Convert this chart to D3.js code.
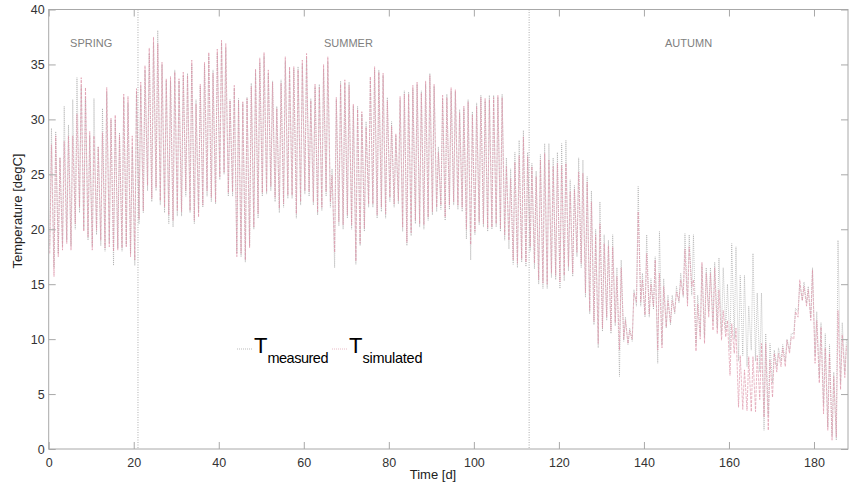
<!DOCTYPE html>
<html>
<head>
<meta charset="utf-8">
<script src="https://cdn.jsdelivr.net/npm/d3@7"></script>
<style>
  body { margin: 0; background: #fff; }
  text { font-family: 'Liberation Sans', Arial, sans-serif; }
</style>
</head>
<body>
<div id="chart"></div>
<script>
let width = 849
let height = 487

// daily extremes, day 0..187
let simMax = [
  27.7,28.5,26.5,28,28.5,28.5,30.5,33.8,32.9,28.9,
  28.5,27.5,28.8,32.9,30.1,30.4,28.6,32.3,32.1,28.5,
  32.8,33.4,34.9,36.5,37.5,36.9,35.2,33.7,33.9,34.3,
  33.7,34.3,34,35.4,31.4,33.2,35.2,36.1,34.2,36.4,
  37.2,36.9,31.7,33.1,31.7,31.6,31.9,33,34.6,35.6,
  36.1,34.5,33.4,31,33.3,35.7,34.8,34.8,34.5,35.4,
  36,31.7,33.2,32.9,35,35.7,24.9,32,33.2,33.6,
  33.1,31.4,30.9,30.7,29.3,33.9,34.8,34.3,34.2,31.7,
  29.4,28.7,32.1,32.3,32.3,33.1,33.4,32.4,33.5,34,
  33.2,27,32.2,32,32.9,32.7,30.6,31.2,31.6,30.4,
  31.2,32,31.9,31.8,32,32.2,32,25.7,24.6,26.1,
  26.7,28.4,26.6,25.7,24.8,26.3,26.9,26.3,25.7,26,
  25.8,26,23.4,23.6,25.2,25.1,24.3,22.5,19.5,20.5,
  18.7,18.5,18.4,15.7,16.5,11.7,10.8,14.2,21.6,15.4,
  17.8,15,17.2,16,14.8,13.5,13.5,14.3,15.4,18.2,
  18.4,15.4,13.2,17,16,16,16.5,14.5,12.6,11.7,
  11.4,11,8.5,7.2,8.4,8.4,8.5,9.6,9.6,8.1,
  8.7,8.7,9.2,9.9,10.2,12.5,15.4,14.8,14.5,16.3,
  11.7,11.1,9.2,8.7,6.6,12.6,10.4,9.4
]
let simMin = [
  17.8,15.7,17.5,18.1,18.7,18.1,20.5,22,19.8,19.3,
  18.1,19.9,19,18.3,18.4,18,18.1,18.3,18.4,17.5,
  17.2,20.9,21.7,24,22.8,23.8,22.6,22,21.3,20.8,
  21.7,21.6,23.5,21.7,20.8,21.1,22.2,23.5,22.9,22.5,
  24.8,25.2,23.3,23.4,17.5,17.8,17.2,18.3,20.2,21.4,
  23.3,23.4,23.9,22.9,21.9,22.3,23.1,23.1,21.4,22.5,
  23.5,23.4,22.5,21.6,22,23.4,22.5,17.9,20.7,20.4,
  21.3,20.4,17.1,18.7,20.1,22.3,22.3,21.3,22,21.4,
  22.9,22.3,22.6,20.2,18.8,19.7,20.8,20.5,20.4,21.1,
  21.6,22,22.2,21.1,22.2,22.5,22.2,22,20,18.6,
  19.8,20.7,20.5,20.1,20.2,20.5,20.1,19.5,19,17.2,
  16.9,17.3,17,18.4,16.9,15.4,15.1,15,16,15.8,
  15.2,15.8,16.6,16,17.9,16.9,14.2,12.6,11.6,9.6,
  11,12,10.8,11.5,9,10,9.6,10,13.4,13.4,
  12.2,12.3,13,9,9.2,11.1,11.5,12.5,13.5,14,
  13,14.8,8.9,10,9.6,12,10.8,10.5,9.9,10.2,
  6.7,8.7,3.8,3.6,3.5,3.4,3.4,4.5,2.9,1.7,
  4.7,7,7.5,7.5,8.7,10,12,13.5,13,11.7,
  7.8,6,3.2,1.7,0.8,1.1,5.4,6.5
]
let measMax = [
  29.2,28.9,26.5,31.2,29.5,31.8,33.8,33,32,28.5,
  31.9,27.5,31,32.5,30,30,28.8,32,31.5,27.5,
  32.5,33,34.5,36,37,38.1,35,33.5,33.5,34.5,
  33.5,34,34.2,35,31.8,33,35,35.8,34.5,36,
  37,36.5,31.8,32.8,31.9,31.5,32,33.3,34.3,35.2,
  35.8,34.2,33.5,31.2,33.6,35.3,34.5,34.6,34.8,35,
  35.6,31.9,33,33.2,34.6,35.3,25.5,31.8,33.5,33.3,
  33.4,31.2,31.2,30.5,29.8,33.6,34.5,34.5,34,32,
  29.8,28.5,31.8,32.6,32.5,32.8,33.2,32.6,33.2,34.2,
  33,27.5,31.9,32.3,32.6,32.5,30.9,31,31.8,30.7,
  31.5,32.2,31.7,32.2,32.2,32,32.3,26.5,25.5,27,
  28.1,29,27,26,25.3,26.8,27.8,27.8,26.5,27,
  27.8,28.1,24.5,24,26.5,26.3,24.8,23.5,20,22.5,
  19.5,19,19.5,16.5,17.2,12,11,14.5,23.9,16,
  19.5,15.5,17.5,19.8,15.5,14,14,14.8,16,19.6,
  19.5,19.5,14,16.7,16.5,16.5,17,17.4,16.5,15,
  18.7,18.4,15.8,15.8,13,17.8,14.2,14.2,10.5,9.6,
  9,9.2,9.5,10,10.5,12.8,15,15.2,14.8,16.5,
  12.5,11.5,10.5,9.5,7,19,11.5,10
]
let measMin = [
  18.5,16.5,17.8,18.5,19,18.5,20,21.5,20,19,
  18.5,19.5,18.5,18,18.8,16.7,18.3,18,18.5,17.8,
  16.7,20.5,21.5,23.5,22.5,23.5,22.2,21.5,20.5,20.2,
  21.2,21.2,23,21.5,20.5,21.5,22,23,22.5,22.3,
  24.5,25,23,23,17.8,17.5,17,18.5,20,21,
  23,23.2,23.5,22.5,21.5,22,22.8,22.8,21,22.2,
  23.2,23,22.2,21.3,21.7,23,22,16.5,20.3,20,
  21,20,16.8,18.5,19.8,22,22,21,21.6,21,
  22.5,22,22.3,19.8,18.5,19.4,20.5,20.2,20,20.8,
  21.3,21.6,21.8,20.8,21.8,22.2,21.8,21.6,19.1,17.2,
  19.5,20.4,20.2,19.8,20,20.2,19.8,19,18.2,16.8,
  16.5,17,16.6,18,16.4,15,14.6,14.6,15.6,15.4,
  14.6,15.3,16.2,15.7,17.5,16.5,13.8,12.3,11.3,9.2,
  10.7,11.7,10.5,11.2,6.6,9.8,9.5,9.8,13,13,
  12,12,12.7,7.8,9.5,11,11.3,12.3,13.3,13.8,
  13.5,14,9.5,10.5,10.2,12.5,11.5,11,10.5,10.8,
  9,10,8,8.5,7.5,9,8,7,1.7,3,
  6,7.5,8,8,9,10.5,12.5,13.5,13.3,12,
  8.5,6.5,4,2,1.2,0.8,6,7
]

let seasonBounds = [21, 113]
let seasons = [
  {name: 'SPRING', day: 10},
  {name: 'SUMMER', day: 70.5},
  {name: 'AUTUMN', day: 150.5}
]
let xTicks = [0, 20, 40, 60, 80, 100, 120, 140, 160, 180]
let yTicks = [0, 5, 10, 15, 20, 25, 30, 35, 40]

let margin = {top: 9.5, right: 1, bottom: 38, left: 48.7}
let axisColor = '#a8a8a8'

let xScale = d3.scaleLinear()
  .domain([0, 188])
  .range([margin.left, width - margin.right])

let yScale = d3.scaleLinear()
  .domain([0, 40])
  .range([height - margin.bottom, margin.top])

let svg = d3.select('#chart').append('svg')
  .attr('width', width)
  .attr('height', height)

svg.append('clipPath').attr('id', 'plot')
  .append('rect')
  .attr('x', xScale(0)).attr('y', yScale(40))
  .attr('width', xScale(188) - xScale(0))
  .attr('height', yScale(0) - yScale(40))

// one minimum and one maximum per day
let toPoints = (mins, maxs) => {
  let pts = []
  mins.forEach((v, i) => {
    pts.push([i + 0.25, v])
    pts.push([i + 0.65, maxs[i]])
  })
  return pts
}

let line = d3.line()
  .x(d => xScale(d[0]))
  .y(d => yScale(d[1]))

let plot = svg.append('g').attr('clip-path', 'url(#plot)')

plot.append('path')
  .datum(toPoints(measMin, measMax))
  .attr('d', line)
  .attr('fill', 'none')
  .attr('stroke', '#9c9c9c')
  .attr('stroke-width', 0.6)
  .attr('stroke-dasharray', '1,1')

plot.append('path')
  .datum(toPoints(simMin, simMax))
  .attr('d', line)
  .attr('fill', 'none')
  .attr('stroke', '#dc93a7')
  .attr('stroke-opacity', 0.8)
  .attr('stroke-width', 0.8)
  .attr('stroke-dasharray', '3,1')

svg.selectAll('.bound')
  .data(seasonBounds)
  .enter().append('line')
  .attr('x1', d => xScale(d)).attr('x2', d => xScale(d))
  .attr('y1', yScale(40)).attr('y2', yScale(0))
  .attr('stroke', '#999')
  .attr('stroke-width', 0.8)
  .attr('stroke-dasharray', '1,1.5')

svg.selectAll('.season')
  .data(seasons)
  .enter().append('text')
  .attr('x', d => xScale(d.day))
  .attr('y', 47)
  .attr('text-anchor', 'middle')
  .attr('font-size', 11)
  .attr('fill', '#808080')
  .text(d => d.name)

// box with inward ticks on all four sides
let styleAxis = (g) => {
  g.select('.domain').remove()
  g.selectAll('.tick line').attr('stroke', axisColor)
  g.selectAll('.tick text').attr('fill', '#333').attr('font-size', 12.5)
    .attr('font-family', "'Liberation Sans', Arial, sans-serif")
}

svg.append('g')
  .attr('transform', 'translate(0,' + yScale(0) + ')')
  .call(d3.axisBottom(xScale).tickValues(xTicks).tickSize(-7).tickPadding(9))
  .call(styleAxis)

svg.append('g')
  .attr('transform', 'translate(0,' + yScale(40) + ')')
  .call(d3.axisTop(xScale).tickValues(xTicks).tickSize(-7).tickFormat(''))
  .call(styleAxis)

svg.append('g')
  .attr('transform', 'translate(' + xScale(0) + ',0)')
  .call(d3.axisLeft(yScale).tickValues(yTicks).tickSize(-7).tickPadding(4))
  .call(styleAxis)

svg.append('g')
  .attr('transform', 'translate(' + xScale(188) + ',0)')
  .call(d3.axisRight(yScale).tickValues(yTicks).tickSize(-7).tickFormat(''))
  .call(styleAxis)

svg.append('rect')
  .attr('x', xScale(0)).attr('y', yScale(40))
  .attr('width', xScale(188) - xScale(0))
  .attr('height', yScale(0) - yScale(40))
  .attr('fill', 'none')
  .attr('stroke', axisColor)

svg.append('text')
  .attr('transform', 'translate(17,211) rotate(-90)')
  .attr('text-anchor', 'middle')
  .attr('dy', '0.35em')
  .attr('font-size', 13)
  .attr('fill', '#222')
  .text('Temperature [degC]')

svg.append('text')
  .attr('x', 433)
  .attr('y', 479)
  .attr('text-anchor', 'middle')
  .attr('font-size', 13)
  .attr('fill', '#222')
  .text('Time [d]')

// legend
let legend = [
  {sub: 'measured', x: 237, stroke: '#aaa'},
  {sub: 'simulated', x: 332, stroke: '#e2aab8'}
]
let items = svg.selectAll('.legend')
  .data(legend)
  .enter().append('g')
  .attr('transform', d => 'translate(' + d.x + ',0)')

items.append('line')
  .attr('x1', 0).attr('x2', 16)
  .attr('y1', 349).attr('y2', 349)
  .attr('stroke', d => d.stroke)
  .attr('stroke-width', 0.8)
  .attr('stroke-dasharray', '1,1')

let lt = items.append('text')
  .attr('x', 17)
  .attr('y', 353)
  .attr('fill', '#000')
lt.append('tspan').attr('font-size', 22).text('T')
lt.append('tspan').attr('font-size', 14.5).attr('dy', 10)
  .attr('textLength', d => d.sub === 'measured' ? 61 : 60)
  .text(d => d.sub)
</script>
</body>
</html>
